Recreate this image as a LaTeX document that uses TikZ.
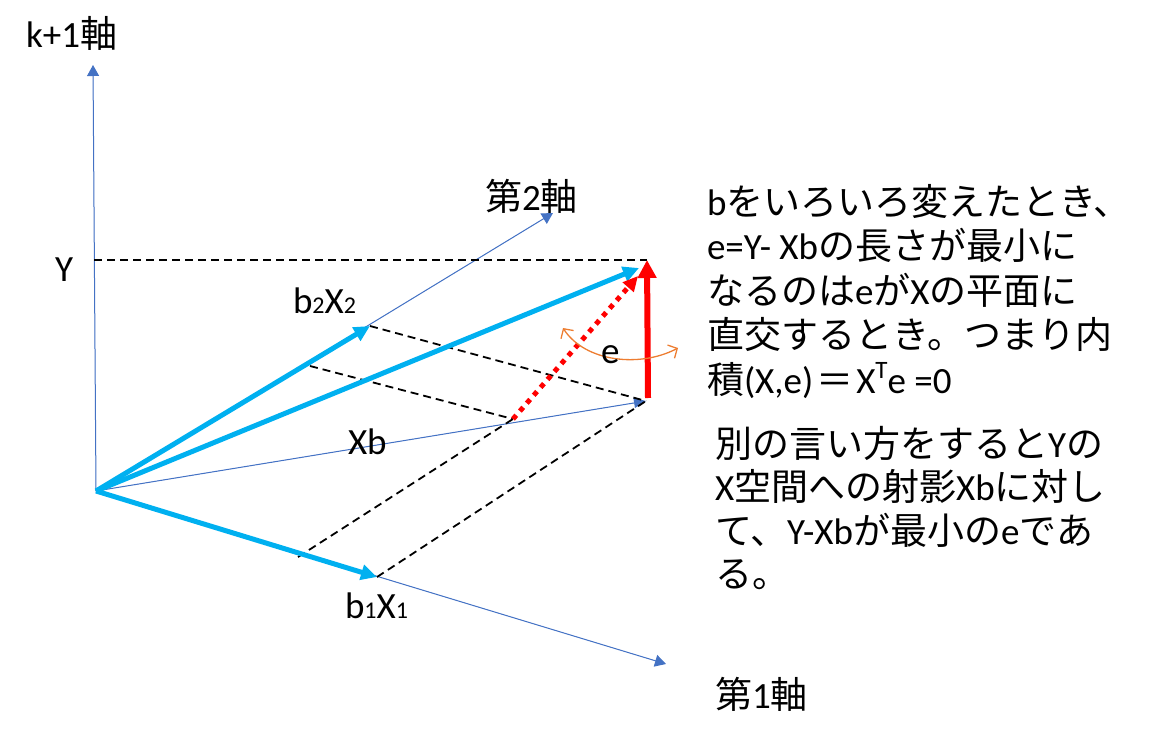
\documentclass[tikz,border=0pt]{standalone}
\usepackage{fontspec}
\setmainfont{Carlito}
\newfontfamily\jp{Noto Sans CJK JP}
\usetikzlibrary{arrows.meta}
\newcommand\J[1]{{\jp #1}}
\newcommand\subd[1]{{\fontsize{24}{24}\selectfont #1}}
\newcommand\supd[1]{\raisebox{0.38em}{\fontsize{25}{25}\selectfont #1}}
\definecolor{axisblue}{HTML}{4472C4}
\definecolor{vecblue}{HTML}{00B0F0}
\definecolor{eorange}{HTML}{ED7D31}
\definecolor{ered}{HTML}{FF0000}
\begin{document}
\begin{tikzpicture}[x=1pt,y=-1pt,
  txt/.style={inner sep=0pt,outer sep=0pt,anchor=base west,font=\fontsize{37}{44}\selectfont},
  axisline/.style={draw=axisblue,line width=1pt,-{Triangle[length=11pt,width=12pt]},fill=axisblue},
  vec/.style={draw=vecblue,line width=5pt,-{Triangle[length=16pt,width=15pt]}},
  guide/.style={draw=black,line width=1.8pt,dash pattern=on 8pt off 5pt},
  redvec/.style={draw=ered,line width=6pt,-{Triangle[length=18pt,width=18pt]}},
  reddot/.style={draw=ered,line width=5pt,dash pattern=on 5pt off 5.5pt,-{Triangle[length=15pt,width=14pt]}},
  swing/.style={draw=eorange,line width=1.3pt,{Straight Barb[length=7pt,width=15pt]}-{Straight Barb[length=7pt,width=15pt]}}
]
\useasboundingbox (0,0) rectangle (1162,741);
% points
\coordinate (O) at (96,491);
\coordinate (kax) at (93,65);
\coordinate (ax2) at (553,213);
\coordinate (ax1) at (666,664);
\coordinate (B1) at (377,577);
\coordinate (B2) at (370,326);
\coordinate (Yt) at (639,268);
\coordinate (XB) at (646,401);
\coordinate (R0) at (648,398);
\coordinate (Rt) at (647,260);
\coordinate (P) at (513,419);
\coordinate (P1) at (298,557);
\coordinate (P2) at (310,366);
\coordinate (Dt) at (638,276);
\coordinate (Yl) at (94,260);
\coordinate (Yr) at (647,260);
\coordinate (S0) at (563,328);
\coordinate (S1) at (678,348);
% thin axes
\draw[axisline] (O) -- (kax);
\draw[axisline] (O) -- (ax2);
\draw[axisline] (O) -- (ax1);
\draw[axisline,-{Triangle[length=12pt,width=10pt]}] (O) -- (XB);
% dashed guides
\draw[guide] (Yl) -- (Yr);
\draw[guide] (B2) -- (XB);
\draw[guide] (B1) -- (XB);
\draw[guide] (P2) -- (P);
\draw[guide] (P1) -- (P);
% thick vectors
\draw[vec] (O) -- (B1);
\draw[vec] (O) -- (B2);
\draw[vec] (O) -- (Yt);
% error vectors
\draw[reddot] (P) -- (Dt);
\draw[redvec] (R0) -- (Rt);
\draw[swing] (S0) .. controls (585,362) and (640,368) .. (S1);
% labels
\node[txt] (lk) at (26,48) {k+1\J{軸}};
\node[txt] (l2) at (485,210) {\J{第}2\J{軸}};
\node[txt] (l1) at (715,708) {\J{第}1\J{軸}};
\node[txt] (lY) at (55,281) {Y};
\node[txt] (lB2) at (293,313) {b\subd{2}X\subd{2}};
\node[txt] (lXb) at (348,454) {Xb};
\node[txt] (le) at (601,363) {e};
\node[txt] (lB1) at (345,618) {b\subd{1}X\subd{1}};
% explanation text
\node[txt] (t1) at (707,215) {b\J{をいろいろ変えたとき、}};
\node[txt] (t2) at (707,259.5) {e=Y- Xb\J{の長さが最小に}};
\node[txt] (t3) at (707,304) {\J{なるのは}e\J{が}X\J{の平面に}};
\node[txt] (t4) at (707,348.5) {\J{直交するとき。つまり内}};
\node[txt] (t5) at (707,393) {\J{積}(X,e)\hspace{3pt}\J{＝}\hspace{3pt}X\supd{T}e =0};
\node[txt] (u1) at (715,457) {\J{別の言い方をすると}Y\J{の}};
\node[txt] (u2) at (715,500.5) {X\J{空間への射影}Xb\J{に対し}};
\node[txt] (u3) at (715,544) {\J{て、}Y-Xb\J{が最小の}e\J{であ}};
\node[txt] (u4) at (715,587.5) {\J{る。}};
\end{tikzpicture}
\end{document}
